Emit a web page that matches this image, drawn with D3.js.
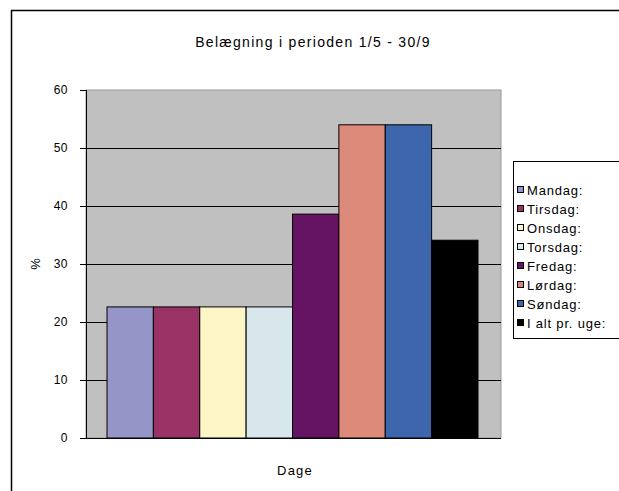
<!DOCTYPE html>
<html>
<head>
<meta charset="utf-8">
<script src="https://cdn.jsdelivr.net/npm/d3@7"></script>
<style>
  html, body { margin: 0; padding: 0; background: #fff; }
  svg text { font-family: "Liberation Sans", Arial, sans-serif; fill: #000; }
</style>
</head>
<body>
<svg id="chart" width="619" height="491"></svg>
<script>
// Data
const days = ["Mandag:", "Tirsdag:", "Onsdag:", "Torsdag:", "Fredag:", "Lørdag:", "Søndag:", "I alt pr. uge:"];
const values = [22.6, 22.6, 22.6, 22.6, 38.6, 54, 54, 34.1];
const colors = ["#9595c8", "#993366", "#fdf7c8", "#d8e7ec", "#641462", "#dc8a7a", "#3d66ad", "#000000"];
const yTicks = [0, 10, 20, 30, 40, 50, 60];

const svg = d3.select("#chart");

// outer frame
svg.append("rect")
    .attr("x", 11.5).attr("y", 10.5)
    .attr("width", 640).attr("height", 500)
    .attr("fill", "none").attr("stroke", "#000").attr("stroke-width", 1.5);

const plot = { left: 86, right: 501, top: 90, bottom: 438 };

const y = d3.scaleLinear().domain([0, 60]).range([plot.bottom, plot.top]);
const x = d3.scaleBand().domain(days)
    .range([plot.left + 21, plot.right - 23])
    .paddingInner(0);

// plot background
svg.append("rect")
    .attr("x", plot.left).attr("y", plot.top)
    .attr("width", plot.right - plot.left).attr("height", plot.bottom - plot.top)
    .attr("fill", "#c0c0c0").attr("stroke", "#9a9a9a").attr("stroke-width", 1);

// gridlines
svg.append("g")
    .selectAll("line")
    .data(yTicks.filter(d => d > 0 && d < 60))
    .enter().append("line")
    .attr("x1", plot.left).attr("x2", plot.right)
    .attr("y1", d => Math.round(y(d)) + 0.5).attr("y2", d => Math.round(y(d)) + 0.5)
    .attr("stroke", "#000").attr("stroke-width", 1);

// bars
svg.append("g")
    .selectAll("rect")
    .data(values)
    .enter().append("rect")
    .attr("x", (d, i) => x(days[i]))
    .attr("y", d => y(d))
    .attr("width", x.bandwidth())
    .attr("height", d => y(0) - y(d))
    .attr("fill", (d, i) => colors[i])
    .attr("stroke", "#000").attr("stroke-width", 1);

// y axis
const yAxis = d3.axisLeft(y).tickValues(yTicks).tickSize(6).tickPadding(12);
const ya = svg.append("g")
    .attr("transform", `translate(${plot.left},0)`)
    .call(yAxis);
ya.select(".domain").attr("stroke", "#000");
ya.selectAll(".tick line").attr("stroke", "#000");
ya.selectAll("text")
    .attr("font-size", 12)
    .attr("letter-spacing", 0.5)
    .attr("font-family", "Liberation Sans, Arial, sans-serif");

// x axis line
svg.append("line")
    .attr("x1", plot.left - 4).attr("x2", plot.right)
    .attr("y1", plot.bottom + 0.5).attr("y2", plot.bottom + 0.5)
    .attr("stroke", "#000");

// title
svg.append("text")
    .attr("x", 313).attr("y", 47)
    .attr("text-anchor", "middle")
    .attr("font-size", 14)
    .attr("letter-spacing", 1.3)
    .text("Belægning i perioden 1/5 - 30/9");

// axis titles
svg.append("text")
    .attr("transform", "translate(40,264) rotate(-90)")
    .attr("text-anchor", "middle")
    .attr("font-size", 13)
    .text("%");

svg.append("text")
    .attr("x", 295).attr("y", 475)
    .attr("text-anchor", "middle")
    .attr("font-size", 13)
    .attr("letter-spacing", 1.2)
    .text("Dage");

// legend
const lg = svg.append("g");
lg.append("rect")
    .attr("x", 513.5).attr("y", 161.5)
    .attr("width", 140).attr("height", 177)
    .attr("fill", "#fff").attr("stroke", "#000").attr("stroke-width", 1);

const items = lg.selectAll("g.item")
    .data(days)
    .enter().append("g")
    .attr("transform", (d, i) => `translate(0,${190 + i * 19})`);
items.append("rect")
    .attr("x", 517.5).attr("y", -3.5)
    .attr("width", 6).attr("height", 6)
    .attr("fill", (d, i) => colors[i])
    .attr("stroke", "#000").attr("stroke-width", 1);
items.append("text")
    .attr("x", 527).attr("y", 4.5)
    .attr("font-size", 13)
    .attr("letter-spacing", 0.8)
    .text(d => d);
</script>
</body>
</html>
